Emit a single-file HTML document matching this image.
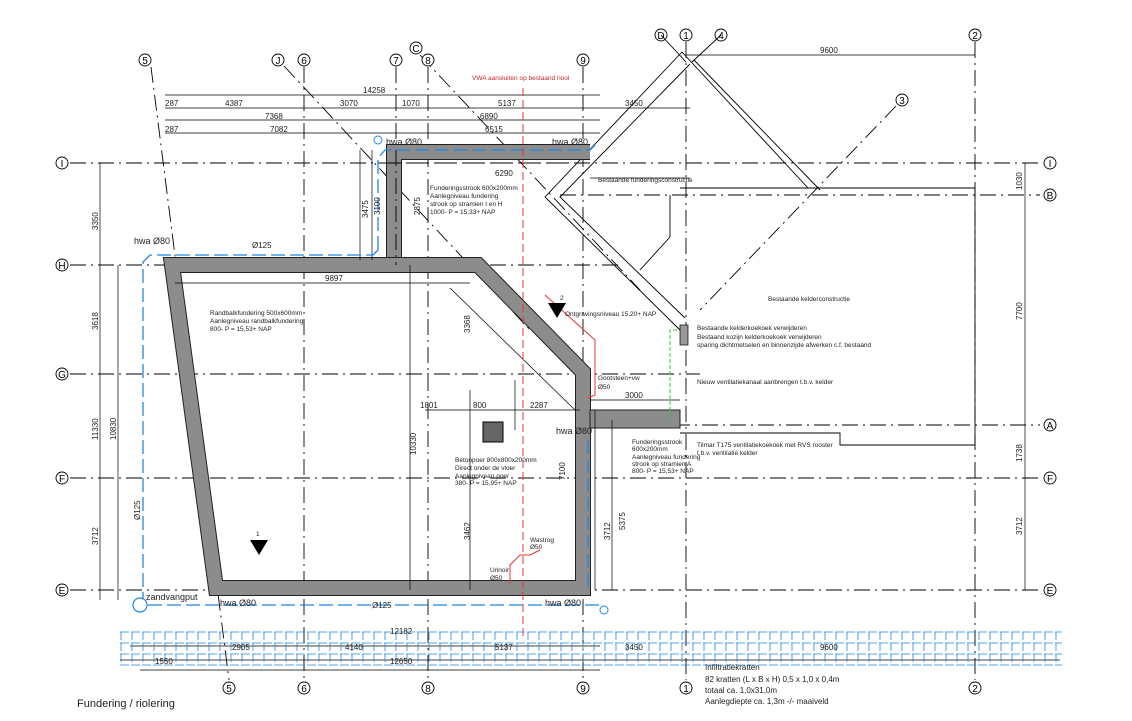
<!DOCTYPE html>
<html><head><meta charset="utf-8"><style>
body{margin:0;background:#fff}
svg{display:block;font-family:"Liberation Sans",sans-serif}
.d{font-size:8px;fill:#222}
.n{font-size:6.5px;fill:#222}
.g{stroke:#000;stroke-width:0.9;fill:none}
.dd{stroke:#000;stroke-width:0.9;fill:none;stroke-dasharray:16 5 2 5}
.t{stroke:#000;stroke-width:0.7;fill:none}
.b{stroke:#1e88e5;stroke-width:1.3;fill:none;stroke-dasharray:14 5}
.r{stroke:#e53935;stroke-width:1;fill:none}
circle.c{fill:#fff;stroke:#000;stroke-width:0.9}
.cl{font-size:10px;text-anchor:middle}
</style></head><body>
<svg width="1132" height="721" viewBox="0 0 1132 721" xmlns="http://www.w3.org/2000/svg">
<g class="dd">
<line x1="70" y1="163" x2="1040" y2="163"/>
<line x1="560" y1="195" x2="1040" y2="195"/>
<line x1="70" y1="265" x2="620" y2="265"/>
<line x1="70" y1="374" x2="700" y2="374"/>
<line x1="590" y1="425" x2="1040" y2="425"/>
<line x1="70" y1="478" x2="1040" y2="478"/>
<line x1="70" y1="590" x2="1040" y2="590"/>
<line x1="151" y1="67" x2="229" y2="680"/>
<line x1="304" y1="67" x2="304" y2="680"/>
<line x1="396" y1="67" x2="396" y2="250"/>
<line x1="428" y1="67" x2="428" y2="680"/>
<line x1="583" y1="67" x2="583" y2="680"/>
<line x1="686" y1="42" x2="686" y2="680"/>
<line x1="975" y1="42" x2="975" y2="680"/>
<line x1="284" y1="66" x2="530" y2="330"/>
<line x1="420" y1="55" x2="640" y2="290"/>
<line x1="896" y1="106" x2="700" y2="310"/>
</g>
<g>
<circle class="c" cx="62" cy="163" r="6"/><text x="62" y="167" class="cl">I</text>
<circle class="c" cx="62" cy="265" r="6"/><text x="62" y="269" class="cl">H</text>
<circle class="c" cx="62" cy="374" r="6"/><text x="62" y="378" class="cl">G</text>
<circle class="c" cx="62" cy="478" r="6"/><text x="62" y="482" class="cl">F</text>
<circle class="c" cx="62" cy="590" r="6"/><text x="62" y="594" class="cl">E</text>
<circle class="c" cx="1050" cy="163" r="6"/><text x="1050" y="167" class="cl">I</text>
<circle class="c" cx="1050" cy="195" r="6"/><text x="1050" y="199" class="cl">B</text>
<circle class="c" cx="1050" cy="425" r="6"/><text x="1050" y="429" class="cl">A</text>
<circle class="c" cx="1050" cy="478" r="6"/><text x="1050" y="482" class="cl">F</text>
<circle class="c" cx="1050" cy="590" r="6"/><text x="1050" y="594" class="cl">E</text>
<circle class="c" cx="145" cy="60" r="6"/><text x="145" y="64" class="cl">5</text>
<circle class="c" cx="278" cy="60" r="6"/><text x="278" y="64" class="cl">J</text>
<circle class="c" cx="304" cy="60" r="6"/><text x="304" y="64" class="cl">6</text>
<circle class="c" cx="396" cy="60" r="6"/><text x="396" y="64" class="cl">7</text>
<circle class="c" cx="416" cy="48" r="6"/><text x="416" y="52" class="cl">C</text>
<circle class="c" cx="428" cy="60" r="6"/><text x="428" y="64" class="cl">8</text>
<circle class="c" cx="583" cy="60" r="6"/><text x="583" y="64" class="cl">9</text>
<circle class="c" cx="661" cy="35" r="6"/><text x="661" y="39" class="cl">D</text>
<circle class="c" cx="686" cy="35" r="6"/><text x="686" y="39" class="cl">1</text>
<circle class="c" cx="721" cy="35" r="6"/><text x="721" y="39" class="cl">4</text>
<circle class="c" cx="975" cy="35" r="6"/><text x="975" y="39" class="cl">2</text>
<circle class="c" cx="902" cy="100" r="6"/><text x="902" y="104" class="cl">3</text>
<circle class="c" cx="229" cy="688" r="6"/><text x="229" y="692" class="cl">5</text>
<circle class="c" cx="304" cy="688" r="6"/><text x="304" y="692" class="cl">6</text>
<circle class="c" cx="428" cy="688" r="6"/><text x="428" y="692" class="cl">8</text>
<circle class="c" cx="583" cy="688" r="6"/><text x="583" y="692" class="cl">9</text>
<circle class="c" cx="686" cy="688" r="6"/><text x="686" y="692" class="cl">1</text>
<circle class="c" cx="975" cy="688" r="6"/><text x="975" y="692" class="cl">2</text>
</g>
<g class="g">
<polyline points="682,52 545,197 680,330"/>
<polyline points="690,64 560,197 685,318"/>
<polyline points="682,52 808,188"/>
<polyline points="694,60 820,190"/>
<polyline points="680,188 975,188 975,445 840,445 840,433 680,433"/>
<polyline points="670,195 670,237 640,270"/>
<line x1="661" y1="35" x2="686" y2="62"/>
<line x1="721" y1="35" x2="692" y2="62"/>
</g>
<g stroke-linejoin="miter" fill="none">
<polyline points="394,260 394,152 590,152" stroke="#222" stroke-width="16"/>
<polyline points="394,260 394,152 590,152" stroke="#8c8c8c" stroke-width="14"/>
<path d="M172,265 L478,265 L583,372 L583,588 L216,588 Z" stroke="#222" stroke-width="16"/>
<path d="M172,265 L478,265 L583,372 L583,588 L216,588 Z" stroke="#8c8c8c" stroke-width="14"/>
<rect x="590" y="410" width="90" height="18" fill="#8c8c8c" stroke="#222"/>
<rect x="483" y="422" width="20" height="20" fill="#666" stroke="#000"/>
</g>
<g class="dd" stroke-width="0.7">
<line x1="385" y1="163" x2="590" y2="163"/>
<line x1="396" y1="150" x2="396" y2="265"/>
</g>
<g class="t">
<line x1="165" y1="95" x2="600" y2="95"/>
<line x1="165" y1="108" x2="690" y2="108"/>
<line x1="165" y1="120" x2="600" y2="120"/>
<line x1="165" y1="133" x2="600" y2="133"/>
<line x1="590" y1="178" x2="690" y2="178"/>
<line x1="175" y1="283" x2="470" y2="283"/>
<line x1="425" y1="410" x2="580" y2="410"/>
<line x1="590" y1="400" x2="680" y2="400"/>
<line x1="686" y1="55" x2="975" y2="55"/>
<line x1="100" y1="163" x2="100" y2="600"/>
<line x1="118" y1="265" x2="118" y2="600"/>
<line x1="1025" y1="163" x2="1025" y2="590"/>
<line x1="410" y1="265" x2="410" y2="590"/>
<line x1="470" y1="390" x2="470" y2="590"/>
<line x1="515" y1="380" x2="515" y2="430"/>
<line x1="360" y1="150" x2="360" y2="260"/>
<line x1="372" y1="150" x2="372" y2="260"/>
<line x1="595" y1="410" x2="595" y2="590"/>
<line x1="612" y1="420" x2="612" y2="590"/>
<line x1="130" y1="646" x2="600" y2="646"/>
<line x1="120" y1="660" x2="1060" y2="660"/>
<line x1="140" y1="670" x2="600" y2="670"/>
<line x1="450" y1="288" x2="575" y2="410"/>
</g>
<g stroke="#1e88e5" stroke-width="0.8" fill="none" stroke-dasharray="9 2">
<line x1="120" y1="632" x2="1062" y2="632"/>
<line x1="120" y1="643" x2="1062" y2="643"/>
<line x1="120" y1="654" x2="1062" y2="654"/>
<line x1="120" y1="665" x2="1062" y2="665"/>
</g>
<g stroke="#1e88e5" stroke-width="0.8" stroke-dasharray="8 3">
<path d="M121,632V665M132,632V665M143,632V665M154,632V665M165,632V665M176,632V665M187,632V665M198,632V665M209,632V665M220,632V665M231,632V665M242,632V665M253,632V665M264,632V665M275,632V665M286,632V665M297,632V665M308,632V665M319,632V665M330,632V665M341,632V665M352,632V665M363,632V665M374,632V665M385,632V665M396,632V665M407,632V665M418,632V665M429,632V665M440,632V665M451,632V665M462,632V665M473,632V665M484,632V665M495,632V665M506,632V665M517,632V665M528,632V665M539,632V665M550,632V665M561,632V665M572,632V665M583,632V665M594,632V665M605,632V665M616,632V665M627,632V665M638,632V665M649,632V665M660,632V665M671,632V665M682,632V665M693,632V665M704,632V665M715,632V665M726,632V665M737,632V665M748,632V665M759,632V665M770,632V665M781,632V665M792,632V665M803,632V665M814,632V665M825,632V665M836,632V665M847,632V665M858,632V665M869,632V665M880,632V665M891,632V665M902,632V665M913,632V665M924,632V665M935,632V665M946,632V665M957,632V665M968,632V665M979,632V665M990,632V665M1001,632V665M1012,632V665M1023,632V665M1034,632V665M1045,632V665M1056,632V665"/>
</g>
<g class="b">
<polyline points="378,250 373,255 150,255 143,262 143,600"/>
<polyline points="378,250 378,158 385,150 590,150 595,145"/>
<polyline points="148,605 600,605"/>
<line x1="588" y1="440" x2="588" y2="590"/>
</g>
<circle cx="140" cy="605" r="7" fill="#fff" stroke="#1e88e5" stroke-width="1.2"/>
<circle cx="378" cy="140" r="4" fill="none" stroke="#1e88e5"/>
<circle cx="604" cy="610" r="4" fill="none" stroke="#1e88e5"/>
<g class="r">
<line x1="523" y1="88" x2="523" y2="640" stroke-dasharray="8 4"/>
<polyline points="545,295 595,340 595,395 588,398"/>
<polyline points="510,585 510,565 520,555 530,555 540,550"/>
</g>
<polyline points="677,330 670,330 670,420" fill="none" stroke="#2ecc40" stroke-dasharray="4 2"/>
<rect x="680" y="325" width="8" height="20" fill="#999" stroke="#000" stroke-width="0.7"/>
<g class="d">
<text x="363" y="93">14258</text>
<text x="165" y="106">287</text><text x="225" y="106">4387</text><text x="340" y="106">3070</text><text x="402" y="106">1070</text><text x="498" y="106">5137</text><text x="625" y="106">3450</text>
<text x="265" y="119">7368</text><text x="480" y="119">6890</text>
<text x="165" y="132">287</text><text x="270" y="132">7082</text><text x="485" y="132">6515</text>
<text x="495" y="176">6290</text>
<text x="820" y="53">9600</text>
<text x="325" y="281">9897</text>
<text x="252" y="248">Ø125</text>
<text x="473" y="408">800</text><text x="420" y="408">1801</text><text x="530" y="408">2287</text>
<text x="625" y="398">3000</text>
<text x="372" y="608">Ø125</text>
<text x="390" y="634">12182</text>
<text x="232" y="650">2905</text><text x="345" y="650">4140</text><text x="495" y="650">5137</text><text x="625" y="650">3450</text><text x="820" y="650">9600</text>
<text x="155" y="664">1550</text><text x="390" y="664">12650</text>
<text x="134" y="244" font-size="9">hwa Ø80</text>
<text x="386" y="145" font-size="9">hwa Ø80</text>
<text x="552" y="145" font-size="9">hwa Ø80</text>
<text x="220" y="606" font-size="9">hwa Ø80</text>
<text x="545" y="606" font-size="9">hwa Ø80</text>
<text x="556" y="434" font-size="9">hwa Ø80</text>
<text x="146" y="600" font-size="9">zandvangput</text>
<text x="77" y="707" font-size="11">Fundering / riolering</text>
</g>
<g class="d" font-size="7">
<text transform="translate(98,230) rotate(-90)">3350</text>
<text transform="translate(98,330) rotate(-90)">3618</text>
<text transform="translate(98,440) rotate(-90)">11330</text>
<text transform="translate(116,440) rotate(-90)">10830</text>
<text transform="translate(98,545) rotate(-90)">3712</text>
<text transform="translate(1022,320) rotate(-90)">7700</text>
<text transform="translate(1022,535) rotate(-90)">3712</text>
<text transform="translate(1022,190) rotate(-90)">1030</text>
<text transform="translate(1022,462) rotate(-90)">1738</text>
<text transform="translate(416,455) rotate(-90)">10330</text>
<text transform="translate(470,333) rotate(-90)">3368</text>
<text transform="translate(470,540) rotate(-90)">3462</text>
<text transform="translate(610,540) rotate(-90)">3712</text>
<text transform="translate(625,530) rotate(-90)">5375</text>
<text transform="translate(565,480) rotate(-90)">7100</text>
<text transform="translate(368,218) rotate(-90)">3475</text>
<text transform="translate(380,215) rotate(-90)">3100</text>
<text transform="translate(420,215) rotate(-90)">2875</text>
<text transform="translate(140,520) rotate(-90)">Ø125</text>
</g>
<g class="n">
<text x="472" y="80" fill="#c62828">VWA aansluiten op bestaand riool</text>
<text x="430" y="190">Funderingsstrook 600x200mm</text>
<text x="430" y="198">Aanlegniveau fundering</text>
<text x="430" y="206">strook op stramien I en H</text>
<text x="430" y="214">1000- P = 15,33+ NAP</text>
<text x="210" y="315">Randbalkfundering 500x600mm</text>
<text x="210" y="323">Aanlegniveau randbalkfundering</text>
<text x="210" y="331">800- P = 15,53+ NAP</text>
<text x="565" y="316">Ontgravingsniveau 15,20+ NAP</text>
<text x="598" y="380">Gootsteen+vw</text><text x="598" y="389">Ø50</text>
<text x="598" y="182">Bestaande funderingsconstructie</text>
<text x="768" y="301">Bestaande kelderconstructie</text>
<text x="697" y="330">Bestaande kelderkoekoek verwijderen</text>
<text x="697" y="339">Bestaand kozijn kelderkoekoek verwijderen</text>
<text x="697" y="347">sparing dichtmetselen en binnenzijde afwerken c.f. bestaand</text>
<text x="697" y="384">Nieuw ventilatiekanaal aanbrengen t.b.v. kelder</text>
<text x="697" y="447">Tilmar T175 ventilatiekoekoek met RVS rooster</text>
<text x="697" y="455">t.b.v. ventilatie kelder</text>
<text x="632" y="444">Funderingsstrook</text>
<text x="632" y="451">600x200mm</text>
<text x="632" y="459">Aanlegniveau fundering</text>
<text x="632" y="466">strook op stramien A</text>
<text x="632" y="473">800- P = 15,53+ NAP</text>
<text x="455" y="462">Betonpoer 800x800x200mm</text>
<text x="455" y="470">Direct onder de vloer</text>
<text x="455" y="478">Aanlegniveau poer</text>
<text x="455" y="485">380- P = 15,95+ NAP</text>
<text x="530" y="542">Wastrog</text><text x="530" y="549">Ø50</text>
<text x="490" y="572">Urinoir</text><text x="490" y="580">Ø50</text>
<text x="705" y="670" font-size="8">Infiltratiekratten</text>
<text x="705" y="682" font-size="8">82 kratten (L x B x H) 0,5 x 1,0 x 0,4m</text>
<text x="705" y="693" font-size="8">totaal ca. 1,0x31,0m</text>
<text x="705" y="704" font-size="8">Aanlegdiepte ca. 1,3m -/- maaiveld</text>
</g>
<polygon points="250,540 268,540 259,555" fill="#000"/><text x="256" y="536" class="n">1</text>
<polygon points="548,303 566,303 557,318" fill="#000"/><text x="560" y="300" class="n">2</text>
</svg>
</body></html>
